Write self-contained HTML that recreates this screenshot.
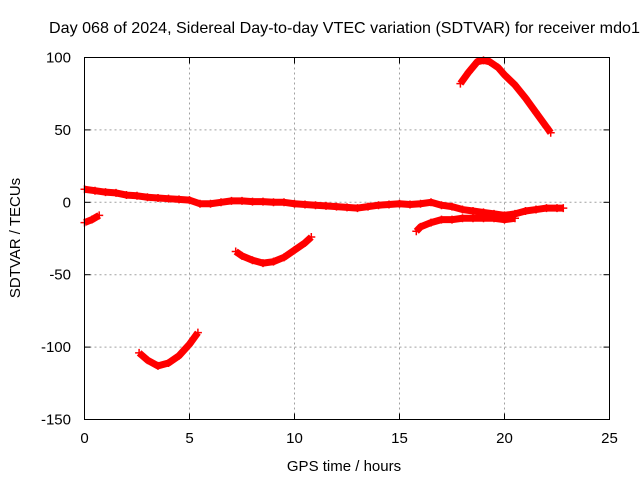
<!DOCTYPE html>
<html><head><meta charset="utf-8"><style>
html,body{margin:0;padding:0;background:#fff}
svg{display:block;font-family:"Liberation Sans",sans-serif}
</style></head><body>
<svg id="chart" width="640" height="480">
<text x="49" y="33" font-size="16.1">Day 068 of 2024, Sidereal Day-to-day VTEC variation (SDTVAR) for receiver mdo1</text>
<g id="grid"></g>
<g id="ticks"></g>
<g id="series"></g>
<rect x="84.5" y="57.5" width="525" height="362" fill="none" stroke="#000" stroke-width="1"/>
<text x="344" y="471" font-size="15" text-anchor="middle">GPS time / hours</text>
<text transform="translate(20,238) rotate(-90)" font-size="15" text-anchor="middle">SDTVAR / TECUs</text>
</svg>
<script>
const xTicks=[0,5,10,15,20,25];
const yTicks=[100,50,0,-50,-100,-150];
const seg1T=[0,0.35,0.7];
const seg1V=[-14,-12,-9];
const seg2T=[0,0.5,1,1.5,2,2.5,3,3.5,4,4.5,5,5.5,6,6.5,7,7.5,8,8.5,9,9.5,10,10.5,11,11.5,12,12.5,13,13.5,14,14.5,15,15.5,16,16.5,17,17.5,18,18.5,19,19.5,20,20.5,21,21.5,22,22.5,22.8];
const seg2V=[9,8,7,6.5,5,4.5,3.5,3,2.5,2,1.5,-1,-1,0,1,1,0.5,0.5,0,0,-1,-1.5,-2,-2.5,-3,-3.5,-4,-3,-2,-1.5,-1,-1.5,-1,0,-2,-3,-5,-6,-7,-8,-9,-8,-6,-5,-4,-4,-4];
const seg3T=[15.8,16,16.5,17,17.5,18,18.5,19,19.5,20,20.5];
const seg3V=[-20,-17,-14,-12,-12,-11,-11,-11,-11,-12,-11];
const seg4T=[2.6,3,3.5,4,4.5,5,5.4];
const seg4V=[-104,-109,-113,-111,-106,-98,-90];
const seg5T=[7.2,7.5,8,8.5,9,9.5,10,10.5,10.8];
const seg5V=[-34,-37,-40,-42,-41,-38,-33,-28,-24];
const seg6T=[17.9,18.3,18.7,19,19.3,19.7,20,20.5,21,21.5,22,22.2];
const seg6V=[82,90,97,98,97,93,88,81,72,62,52,48];

const NS="http://www.w3.org/2000/svg";
const X0=84.5,X1=609.5,Y0=419.5,Y1=57.5;
function sx(t){return X0+(t-0)/(25-0)*(X1-X0);}
function sy(v){return Y0-(v+150)/(250)*(Y0-Y1);}
function mk(tag,attrs,parent){const e=document.createElementNS(NS,tag);for(const k in attrs)e.setAttribute(k,attrs[k]);parent.appendChild(e);return e;}
const grid=document.getElementById('grid'),ticks=document.getElementById('ticks'),series=document.getElementById('series');
xTicks.forEach(t=>{
  const x=sx(t);
  if(t>0&&t<25){const g=mk('line',{x1:x,x2:x,y1:Y1,y2:Y0,stroke:'#a0a0a0','stroke-dasharray':'2,3'},grid);
  
  }
  mk('line',{x1:x,x2:x,y1:Y0,y2:Y0-6,stroke:'#000'},ticks);
  mk('line',{x1:x,x2:x,y1:Y1,y2:Y1+6,stroke:'#000'},ticks);
  const l=mk('text',{x:x,y:443,'font-size':15,'text-anchor':'middle'},ticks);l.textContent=t;
  
  
});
yTicks.forEach(v=>{
  const y=sy(v);
  if(v>-150&&v<100){const g=mk('line',{x1:X0,x2:X1,y1:y,y2:y,stroke:'#a0a0a0','stroke-dasharray':'2,3'},grid);
  
  }
  mk('line',{x1:X0,x2:X0+6,y1:y,y2:y,stroke:'#000'},ticks);
  mk('line',{x1:X1,x2:X1-6,y1:y,y2:y,stroke:'#000'},ticks);
  const l=mk('text',{x:71,y:y+5,'font-size':15,'text-anchor':'end'},ticks);l.textContent=v;
  
  
});
[[seg1T,seg1V],[seg2T,seg2V],[seg3T,seg3V],[seg4T,seg4V],[seg5T,seg5V],[seg6T,seg6V]].forEach((s,i)=>{
  const pts=s[0].map((t,j)=>sx(t)+','+sy(s[1][j])).join(' ');
  const p=mk('polyline',{points:pts,fill:'none',stroke:'#f00','stroke-width':7,'stroke-linejoin':'round'},series);
  
  
  s[0].forEach((t,j)=>{
    const x=sx(t),y=sy(s[1][j]);
    mk('path',{d:`M${x-4},${y}H${x+4}M${x},${y-4}V${y+4}`,stroke:'#f00','stroke-width':1.5},series);
  });
});
</script>
</body></html>
